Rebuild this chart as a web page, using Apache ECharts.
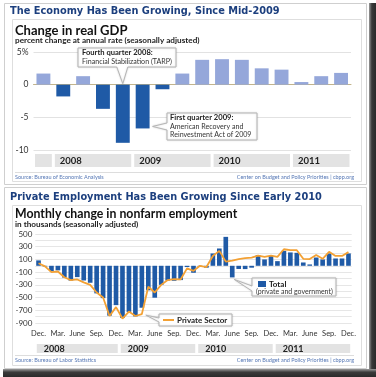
<!DOCTYPE html>
<html>
<head>
<meta charset="utf-8">
<script src="https://cdn.jsdelivr.net/npm/echarts@6/dist/echarts.min.js"></script>
<style>
  html, body { margin: 0; padding: 0; background: #fff; }
  #chart { width: 376px; height: 377px; }
</style>
</head>
<body>
<div id="chart"></div>
<script>
// ---- real GDP, % change at annual rate, 2007 Q4 - 2011 Q3
const gdpQuarters = ['2007 Q4',
  '2008 Q1', '2008 Q2', '2008 Q3', '2008 Q4',
  '2009 Q1', '2009 Q2', '2009 Q3', '2009 Q4',
  '2010 Q1', '2010 Q2', '2010 Q3', '2010 Q4',
  '2011 Q1', '2011 Q2', '2011 Q3'];
const gdpChange = [1.7, -1.8, 1.3, -3.7, -8.9, -6.7, -0.7, 1.7, 3.8, 3.9, 3.8, 2.5, 2.3, 0.4, 1.3, 1.8];
const gdpYears = ['', '2008', '2009', '2010', '2011'];
const gdpYearFirst = [0, 1, 5, 9, 13];
const gdpYearLast = [0, 4, 8, 12, 15];

// ---- monthly change in nonfarm employment (thousands), Dec 2007 - Dec 2011
const monthNames = ['Jan.', 'Feb.', 'Mar.', 'Apr.', 'May', 'June', 'July', 'Aug.', 'Sep.', 'Oct.', 'Nov.', 'Dec.'];
const empMonths = ['Dec. 2007'];
['2008', '2009', '2010', '2011'].forEach(y => monthNames.forEach(m => empMonths.push(m + ' ' + y)));

const empTotal = [85,
  -10, -83, -72, -185, -233, -178, -231, -267, -434, -509, -785, -619,
  -820, -726, -796, -660, -386, -502, -300, -231, -236, -225, -20, -110,
  -16, -30, 194, 272, 455, -183, -50, -52, -30, 168, 100, 157,
  73, 235, 210, 204, 52, 21, 130, 100, 194, 115, 115, 194];
const empPrivate = [40,
  -10, -100, -90, -180, -225, -215, -260, -300, -420, -500, -790, -650,
  -830, -720, -790, -760, -330, -420, -300, -225, -210, -215, -40, -80,
  0, -20, 155, 235, 65, 80, 105, 120, 128, 160, 140, 160,
  140, 260, 245, 245, 110, 105, 170, 110, 220, 155, 155, 215];
const empYears = ['2008', '2009', '2010', '2011'];
const empYearFirst = [0, 13, 25, 37];
const empYearLast = [12, 24, 36, 48];

const DARK = '#1f5aa6';
const LIGHT = '#95a7da';
const ORANGE = '#f3a134';
const TITLE = '#1c3f7e';
const SRC = '#5577b5';
const FONT = 'Lato, "Liberation Sans", sans-serif';

const chart = echarts.init(document.getElementById('chart'), null, { renderer: 'canvas' });

// gray year strips under a chart, one rect per year from the axis bands
function yearStrip(axisIdx, names, first, last, fontSize, pad) {
  return {
    type: 'custom',
    xAxisIndex: axisIdx,
    yAxisIndex: axisIdx,
    silent: true,
    data: names.map((n, i) => [first[i], last[i]]),
    renderItem: (params, api) => {
      const w = api.size([1, 0])[0];
      const a = api.coord([api.value(0), 1]);
      const b = api.coord([api.value(1), 0]);
      const x0 = a[0] - w / 2 + 1.5;
      const x1 = b[0] + w / 2 - 1.5;
      return {
        type: 'group',
        children: [
          { type: 'rect', shape: { x: x0, y: a[1], width: x1 - x0, height: b[1] - a[1] }, style: { fill: '#e3e3e3' } },
          { type: 'text', x: x0 + pad, y: (a[1] + b[1]) / 2 + 0.5,
            style: { text: names[params.dataIndex], fontSize: fontSize, fontWeight: 'bold', fontFamily: FONT,
                     fill: '#222', verticalAlign: 'middle' } }
        ]
      };
    }
  };
}

const option = {
  animation: false,
  grid: [
    { left: 33.5, top: 52, width: 317.5, height: 98 },
    { left: 33.5, top: 154, width: 317.5, height: 13 },
    { left: 35.3, top: 234, width: 316.4, height: 89 },
    { left: 35.3, top: 344, width: 316.4, height: 9 }
  ],
  xAxis: [
    { gridIndex: 0, type: 'category', data: gdpQuarters,
      axisLine: { show: true, lineStyle: { color: '#c2b48c', width: 1 } },
      axisTick: { show: false }, axisLabel: { show: false } },
    { gridIndex: 1, type: 'category', data: gdpQuarters, show: false },
    { gridIndex: 2, type: 'category', data: empMonths,
      axisLine: { show: false }, axisTick: { show: false },
      axisLabel: { interval: 2, formatter: v => v.split(' ')[0], fontSize: 7.5, color: '#333',
                   fontFamily: FONT, margin: 7 } },
    { gridIndex: 3, type: 'category', data: empMonths, show: false }
  ],
  yAxis: [
    { gridIndex: 0, type: 'value', min: -10, max: 5, interval: 5,
      axisLabel: { formatter: v => (v === 5 ? '5%' : String(v)), fontSize: 8.5, color: '#333',
                   fontFamily: FONT, margin: 5 },
      splitLine: { lineStyle: { color: '#e2e2e2' } } },
    { gridIndex: 1, type: 'value', min: 0, max: 1, show: false },
    { gridIndex: 2, type: 'value', min: -900, max: 500, interval: 200,
      axisLabel: { fontSize: 8, color: '#333', fontFamily: FONT, margin: 3 },
      splitLine: { lineStyle: { color: '#e6e6e6' } },
      minorTick: { show: false, splitNumber: 2 },
      minorSplitLine: { show: true, lineStyle: { color: '#e6e6e6' } } },
    { gridIndex: 3, type: 'value', min: 0, max: 1, show: false }
  ],
  series: [
    { name: 'Real GDP', type: 'bar', xAxisIndex: 0, yAxisIndex: 0, barCategoryGap: '30%',
      data: gdpChange.map(v => ({ value: v, itemStyle: { color: v >= 0 ? LIGHT : DARK } })) },
    yearStrip(1, gdpYears, gdpYearFirst, gdpYearLast, 9.5, 5),
    { name: 'Total', type: 'bar', xAxisIndex: 2, yAxisIndex: 2, barCategoryGap: '28%',
      itemStyle: { color: DARK }, data: empTotal },
    { name: 'Private Sector', type: 'line', xAxisIndex: 2, yAxisIndex: 2, symbol: 'none',
      lineStyle: { color: ORANGE, width: 1.8 }, z: 5, data: empPrivate },
    yearStrip(3, empYears, empYearFirst, empYearLast, 9, 7)
  ]
};

chart.setOption(option);

// ---- frames, titles and callouts (callout tips follow the data)
const px = (i, pt) => chart.convertToPixel({ xAxisIndex: i, yAxisIndex: i }, pt);
const gdpBand = px(0, [1, 0])[0] - px(0, [0, 0])[0];
const tarp = px(0, [4, 0]);
const arra = px(0, [5, gdpChange[5]]);
const jun = px(2, [30, empTotal[30]]);
const priv = px(2, [16, empPrivate[16]]);

function txt(x, y, text, size, opts) {
  return Object.assign({ type: 'text', x: x, y: y, z: 100,
    style: Object.assign({ text: text, fontSize: size, fontFamily: FONT, fill: '#222',
                           verticalAlign: 'middle' }, opts || {}) });
}
function frame(x, y, w, h, color) {
  return { type: 'rect', z: -1, shape: { x: x, y: y, width: w, height: h },
           style: { fill: 'none', stroke: color, lineWidth: 1 } };
}
function callout(points) {
  return { type: 'polygon', z: 90, shape: { points: points },
           style: { fill: '#fff', stroke: '#b5b5b5', lineWidth: 1, shadowBlur: 2, shadowColor: 'rgba(0,0,0,0.15)' } };
}

const graphic = [
  // drop shadow of the picture
  { type: 'rect', z: -2, shape: { x: 369, y: 3, width: 7, height: 374 },
    style: { fill: new echarts.graphic.LinearGradient(0, 0, 1, 0, [{ offset: 0, color: '#9a9a9a' }, { offset: 0.4, color: '#3a3a3a' }, { offset: 1, color: '#2a2a2a' }]) } },
  { type: 'rect', z: -2, shape: { x: 3, y: 369, width: 373, height: 8 },
    style: { fill: new echarts.graphic.LinearGradient(0, 0, 0, 1, [{ offset: 0, color: '#9a9a9a' }, { offset: 0.4, color: '#3a3a3a' }, { offset: 1, color: '#2a2a2a' }]) } },
  frame(4.5, 3.5, 362, 181, '#cfcfcf'),
  frame(12.5, 19.5, 349, 162, '#dedede'),
  frame(4.5, 187.5, 362, 181, '#cfcfcf'),
  frame(12.5, 205.5, 349, 160, '#dedede'),

  // top panel
  txt(10, 11.5, 'The Economy Has Been Growing, Since Mid-2009', 9.8,
      { fontFamily: '"DejaVu Sans", sans-serif', fontWeight: 'bold', fill: TITLE }),
  txt(15, 31, 'Change in real GDP', 13, { fontWeight: 'bold', fill: '#111' }),
  txt(15, 40.5, 'percent change at annual rate (seasonally adjusted)', 8.2, { fontWeight: 'bold', fill: '#222' }),
  { type: 'line', z: 1, shape: { x1: 15, y1: 172.5, x2: 354, y2: 172.5 }, style: { stroke: '#dddddd', lineWidth: 1 } },
  txt(15, 177, 'Source: Bureau of Economic Analysis', 5.5, { fill: SRC }),
  txt(354, 177, 'Center on Budget and Policy Priorities | cbpp.org', 5.5, { fill: SRC, align: 'right' }),

  callout([[78, 48], [176, 48], [176, 67], [tarp[0] + 5, 67], [tarp[0], tarp[1] - 1], [tarp[0] - 6, 67], [78, 67]]),
  txt(82, 53, 'Fourth quarter 2008:', 7.6, { fontWeight: 'bold' }),
  txt(82, 62, 'Financial Stabilization (TARP)', 7.1, { fill: '#333' }),

  callout([[167, 113], [257, 113], [257, 140], [167, 140], [167, 130],
           [arra[0] + gdpBand * 0.35 + 3, arra[1] - 2], [167, 123]]),
  txt(170, 118, 'First quarter 2009:', 7.6, { fontWeight: 'bold' }),
  txt(170, 126.5, 'American Recovery and', 7.1, { fill: '#333' }),
  txt(170, 135, 'Reinvestment Act of 2009', 7.1, { fill: '#333' }),

  // bottom panel
  txt(10, 197, 'Private Employment Has Been Growing Since Early 2010', 9.8,
      { fontFamily: '"DejaVu Sans", sans-serif', fontWeight: 'bold', fill: TITLE }),
  txt(15, 214, 'Monthly change in nonfarm employment', 12.3, { fontWeight: 'bold', fill: '#111' }),
  txt(15, 224, 'in thousands (seasonally adjusted)', 8.2, { fontWeight: 'bold', fill: '#222' }),
  { type: 'line', z: 1, shape: { x1: 15, y1: 355.5, x2: 354, y2: 355.5 }, style: { stroke: '#dddddd', lineWidth: 1 } },
  txt(15, 360, 'Source: Bureau of Labor Statistics', 5.5, { fill: SRC }),
  txt(354, 360, 'Center on Budget and Policy Priorities | cbpp.org', 5.5, { fill: SRC, align: 'right' }),

  callout([[252, 278], [336, 278], [336, 296], [252, 296], [252, 291], [jun[0] + 2, jun[1] + 2], [252, 286]]),
  { type: 'rect', z: 100, shape: { x: 258, y: 281, width: 8, height: 6 }, style: { fill: DARK } },
  txt(269, 284.5, 'Total', 8, { fontWeight: 'bold' }),
  txt(256, 292, '(private and government)', 7, { fill: '#333' }),

  callout([[159, 314], [232, 314], [232, 326], [159, 326], [159, 322], [priv[0] + 4, priv[1] + 1], [159, 318]]),
  { type: 'line', z: 100, shape: { x1: 163, y1: 320, x2: 174, y2: 320 }, style: { stroke: ORANGE, lineWidth: 2 } },
  txt(177, 320.5, 'Private Sector', 8, { fontWeight: 'bold' })
];

chart.setOption({ graphic: graphic });

window.addEventListener('resize', () => chart.resize());
</script>
</body>
</html>
